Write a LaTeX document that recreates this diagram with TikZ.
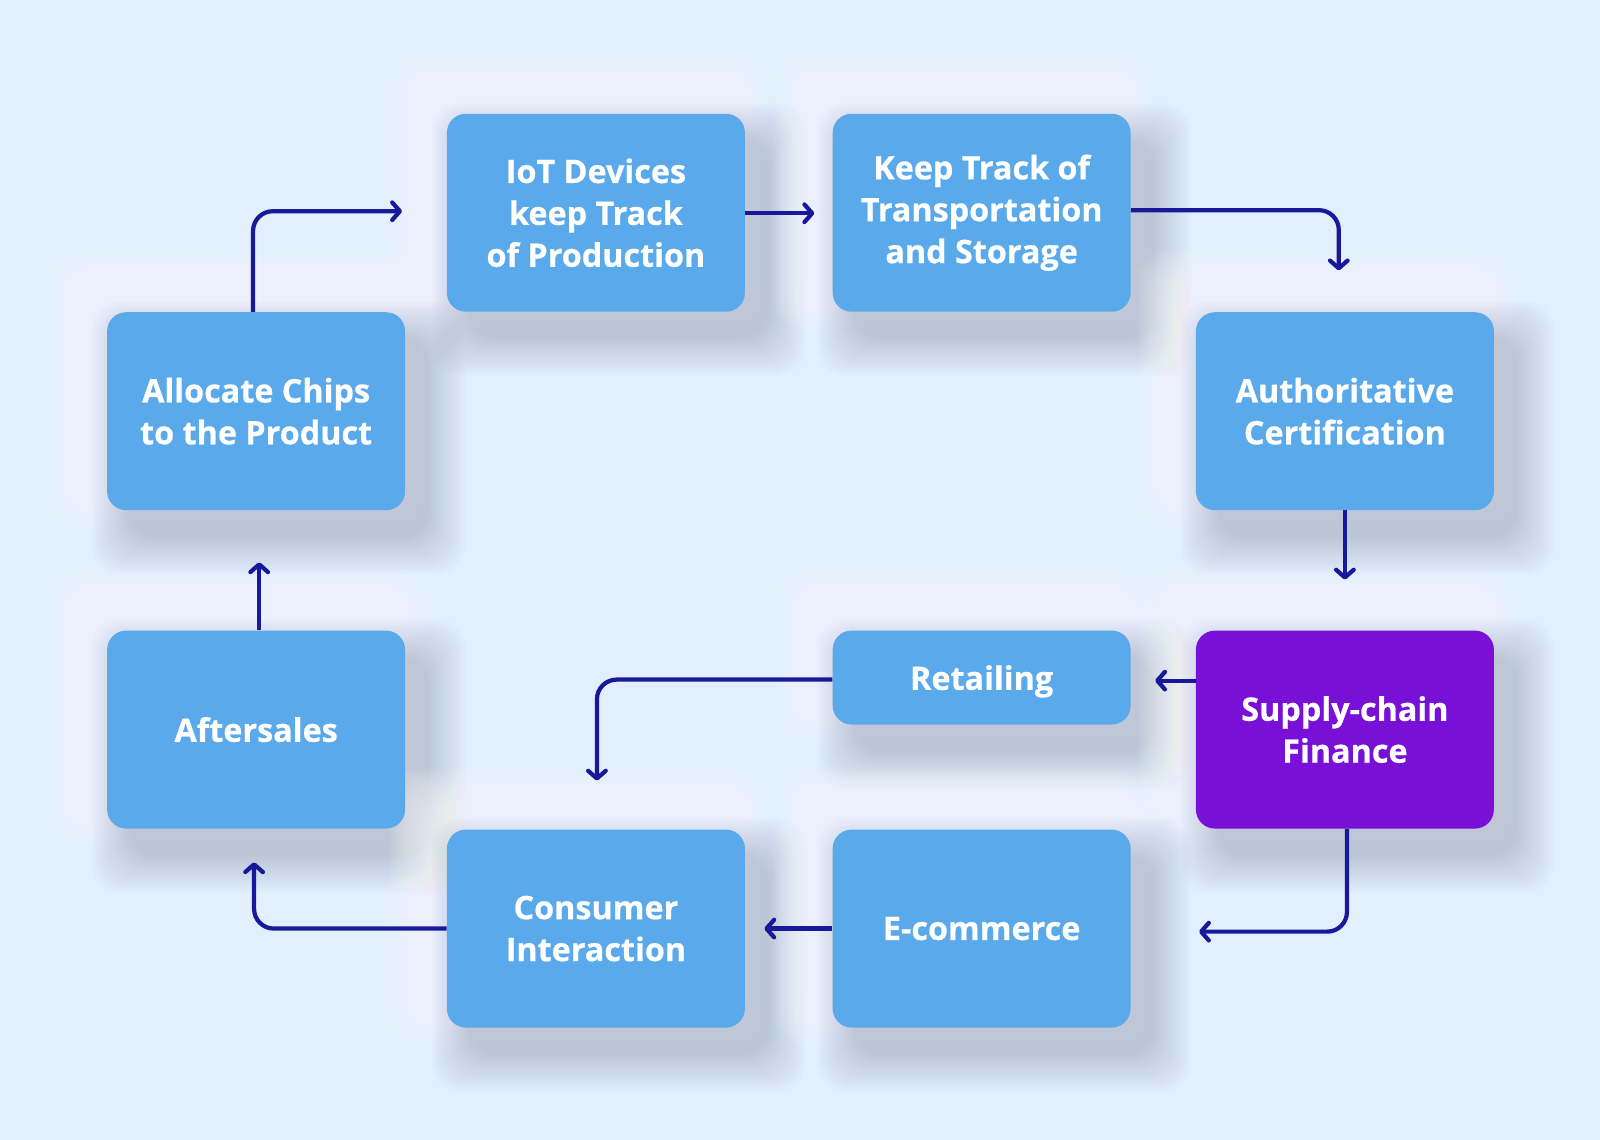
\documentclass[tikz,border=0pt]{standalone}
\usepackage{fontspec}
\setmainfont{Open Sans}[BoldFeatures={FakeBold=0.6}]
\usetikzlibrary{arrows.meta}
\definecolor{bgc}{HTML}{E2F0FD}
\definecolor{boxc}{HTML}{5AA9EA}
\definecolor{purc}{HTML}{7810D8}
\definecolor{arrc}{HTML}{18189A}
\definecolor{shc}{HTML}{8A93AE}
\newcommand\softbox[4]{%
  \foreach \r in {1,3,...,39}{%
    \fill[white, opacity=0.05, rounded corners=20pt] (#1-18-\r,#2-22-\r) rectangle (#3-18+\r,#4-22+\r);
  }%
  \foreach \r in {1,3,...,37}{%
    \fill[shc, opacity=0.024, rounded corners=20pt] (#1+22-\r,#2+26-\r) rectangle (#3+22+\r,#4+26+\r);
  }%
}
\begin{document}
\begin{tikzpicture}[x=0.02551cm,y=-0.02551cm,
  box/.style={fill=boxc, rounded corners=13.5pt, minimum width=7.45cm, minimum height=4.95cm,
    text=white, align=center, inner sep=0pt,
    font=\fontsize{23}{29.8}\selectfont\bfseries},
  arr/.style={draw=arrc, line width=3pt, rounded corners=14pt,
    -{Straight Barb[length=5.5pt,width=12.5pt,line cap=round,line join=round]}}]
\fill[bgc] (0,0) rectangle (1568,1117.2);
\useasboundingbox (0,0) rectangle (1568,1117.2);
% shadows
\softbox{438}{112}{730}{305}
\softbox{816}{112}{1108}{305}
\softbox{105}{306}{397}{500}
\softbox{1172}{306}{1464}{500}
\softbox{816}{618}{1108}{710}
\softbox{1172}{618}{1464}{812}
\softbox{105}{618}{397}{812}
\softbox{438}{813}{730}{1007}
\softbox{816}{813}{1108}{1007}
% boxes
\node[box] (iot) at (584,208.5) {IoT Devices\\keep Track\\of Production};
\node[box] (keep) at (962,208.5) {Keep Track of\\Transportation\\and Storage};
\node[box] (alloc) at (251,403) {Allocate Chips\\to the Product};
\node[box] (auth) at (1318,403) {Authoritative\\Certification};
\node[box, minimum height=2.35cm, text depth=0pt] (ret) at (962,664) {Retailing};
\node[box, fill=purc] (supply) at (1318,715) {Supply-chain\\Finance};
\node[box] (after) at (251,715) {Aftersales};
\node[box] (cons) at (584,910) {Consumer\\Interaction};
\node[box] (ecom) at (962,910) {E-commerce};
% connector ends
\coordinate (c1) at (394,207);
\coordinate (c2) at (798,209);
\coordinate (c3) at (1312,265);
\coordinate (c4) at (1318,568);
\coordinate (c5) at (1132,667);
\coordinate (c6) at (585,765);
\coordinate (c7) at (1175,913);
\coordinate (c8) at (749,910);
\coordinate (c9) at (249,845);
\coordinate (c10) at (254,551);
% connectors
\draw[arr] (alloc.north -| 248,0) |- (c1);
\draw[arr] (iot.east |- c2) -- (c2);
\draw[arr] (keep.east |- 0,206) -| (c3);
\draw[arr] (auth.south) -- (c4);
\draw[arr] (supply.west |- c5) -- (c5);
\draw[arr] (ret.west |- 0,666) -| (c6);
\draw[arr] (supply.south -| 1320,0) |- (c7);
\draw[arr] (ecom.west) -- (c8);
\draw[arr] (cons.west) -| (c9);
\draw[arr] (after.north -| c10) -- (c10);
\end{tikzpicture}
\end{document}
